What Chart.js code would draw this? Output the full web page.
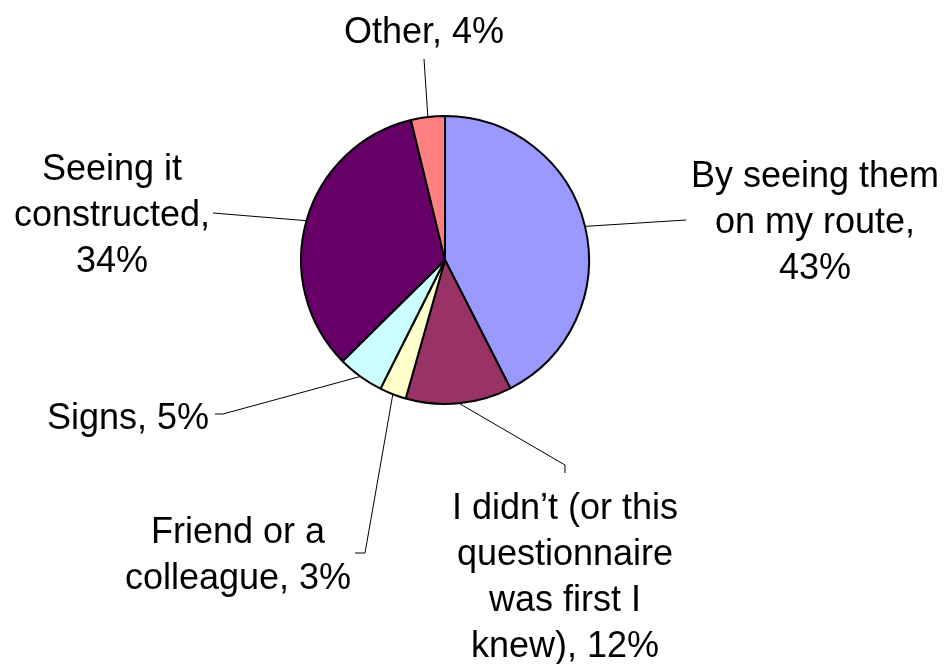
<!DOCTYPE html>
<html lang="en">
<head>
<meta charset="UTF-8">
<title>How did you learn about it</title>
<script src="https://cdn.jsdelivr.net/npm/chart.js"></script>
<style>
    body { margin: 0; background: #ffffff; }
    #wrap { width: 944px; height: 664px; }
</style>
</head>
<body>
<div id="wrap"><canvas id="pie" width="944" height="664"></canvas></div>
<script>
// Data (slice shares in %, clockwise from 12 o'clock)
const categories = [
    'By seeing them on my route',
    'I didn\u2019t (or this questionnaire was first I knew)',
    'Friend or a colleague',
    'Signs',
    'Seeing it constructed',
    'Other'
];
const shares = [42.5, 11.9, 3.0, 5.2, 33.6, 3.8];
const shownPercent = ['43%', '12%', '3%', '5%', '34%', '4%'];
const labelLines = [
    ['By seeing them', 'on my route,', '43%'],
    ['I didn\u2019t (or this', 'questionnaire', 'was first I', 'knew), 12%'],
    ['Friend or a', 'colleague, 3%'],
    ['Signs, 5%'],
    ['Seeing it', 'constructed,', '34%'],
    ['Other, 4%']
];
const sliceColors = ['#9999FF', '#993366', '#FFFFCC', '#CCFFFF', '#660066', '#FF8080'];

// Label layout: centre x and first baseline of each text block, then leader elbows
const labelPos = [
    { x: 815, y: 187 },
    { x: 565, y: 519 },
    { x: 238, y: 543 },
    { x: 128, y: 429 },
    { x: 112, y: 180 },
    { x: 424, y: 43 }
];
const leaderPts = [
    [[686, 220]],
    [[565, 465], [565, 473]],
    [[365, 553], [355, 553]],
    [[223, 414], [215, 414]],
    [[213, 213]],
    [[424, 59]]
];
const FONT = '36px "Liberation Sans", Arial, sans-serif';
const LINE_H = 46;

const calloutPlugin = {
    id: 'callouts',
    afterDatasetsDraw(chart) {
        const ctx = chart.ctx;
        const arcs = chart.getDatasetMeta(0).data;
        ctx.save();
        // leader lines from the middle of each slice's rim
        ctx.strokeStyle = '#000000';
        ctx.lineWidth = 1;
        arcs.forEach((arc, i) => {
            const p = arc.getProps(['x', 'y', 'startAngle', 'endAngle', 'outerRadius'], true);
            const a = (p.startAngle + p.endAngle) / 2;
            ctx.beginPath();
            ctx.moveTo(p.x + Math.cos(a) * p.outerRadius, p.y + Math.sin(a) * p.outerRadius);
            leaderPts[i].forEach(pt => ctx.lineTo(pt[0], pt[1]));
            ctx.stroke();
        });
        // label text
        ctx.fillStyle = '#000000';
        ctx.font = FONT;
        ctx.textAlign = 'center';
        ctx.textBaseline = 'alphabetic';
        labelLines.forEach((lines, i) => {
            lines.forEach((t, j) => ctx.fillText(t, labelPos[i].x, labelPos[i].y + j * LINE_H));
        });
        ctx.restore();
    }
};

new Chart(document.getElementById('pie').getContext('2d'), {
    type: 'pie',
    data: {
        labels: categories,
        datasets: [{
            data: shares,
            backgroundColor: sliceColors,
            borderColor: '#000000',
            borderWidth: 2,
            borderAlign: 'center'
        }]
    },
    options: {
        responsive: false,
        animation: false,
        layout: { padding: { top: 115, bottom: 259, left: 300, right: 354 } },
        plugins: {
            legend: { display: false },
            tooltip: { enabled: false }
        }
    },
    plugins: [calloutPlugin]
});
</script>
</body>
</html>
